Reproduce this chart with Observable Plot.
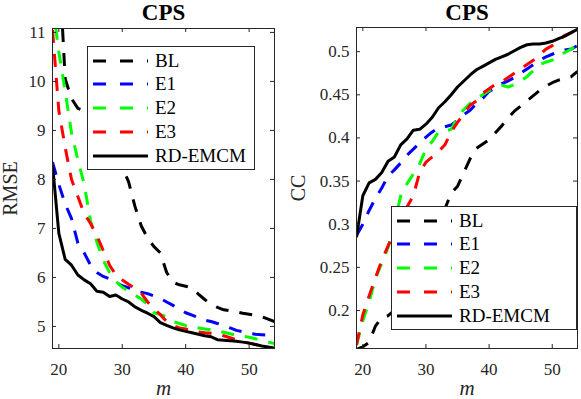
<!DOCTYPE html>
<html><head><meta charset="utf-8">
<script src="https://cdn.jsdelivr.net/npm/d3@7"></script>
<script src="https://cdn.jsdelivr.net/npm/@observablehq/plot@0.6"></script>
<style>
body{margin:0;background:#fff;}
#wrap{position:relative;width:581px;height:399px;display:flex;font-family:"Liberation Serif","Times New Roman",Times,"DejaVu Serif",serif;}
#wrap svg{display:block;flex:none;overflow:visible;}
#wrap svg text{font-family:"Liberation Serif","Times New Roman",Times,"DejaVu Serif",serif;}
.legend{position:absolute;background:#fff;border:1px solid #262626;box-sizing:border-box;font-family:"Liberation Serif","Times New Roman",Times,"DejaVu Serif",serif;font-size:19px;color:#000;}
.row{position:absolute;left:0;height:24px;display:flex;align-items:center;white-space:nowrap;}
.row svg{margin-left:5px;margin-right:7px;}
</style></head><body><div id="wrap"></div>
<script>
// x values (number of samples m)
const m = [19,20,21,22,23,24,25,26,27,28,29,30,31,32,33,34,35,36,37,38,39,40,41,42,43,44,45,46,47,48,49,50,51,52,53,54];
const xTicks = [20,30,40,50];
const rmseTicks = [5,6,7,8,9,10,11];
const ccTicks = [0.2,0.25,0.3,0.35,0.4,0.45,0.5];
const seriesNames = ["BL","E1","E2","E3","RD-EMCM"];
const seriesColors = ["#000000","#0000ff","#00ff00","#ff0000","#000000"];
const seriesDashed = [true,true,true,true,false];

// RMSE panel
const rmseBL = [14.0,12.5,10.05,9.65,9.45,9.40,9.3,9.15,9.0,8.8,8.55,8.25,7.95,7.45,7.05,6.8,6.63,6.5,6.1,5.9,5.85,5.82,5.78,5.66,5.55,5.45,5.39,5.34,5.32,5.30,5.27,5.25,5.23,5.20,5.15,5.10];
const rmseE1 = [8.35,7.9,7.5,7.2,6.7,6.5,6.25,6.1,6.02,5.97,5.9,5.83,5.79,5.74,5.7,5.67,5.62,5.57,5.5,5.43,5.35,5.28,5.23,5.18,5.13,5.1,5.06,5.02,4.97,4.92,4.89,4.86,4.84,4.83,4.82,4.82];
const rmseE2 = [11.6,10.6,9.8,8.95,8.4,7.9,7.15,6.72,6.35,6.1,5.92,5.8,5.72,5.64,5.56,5.45,5.28,5.24,5.2,5.1,5.06,5.02,4.99,4.97,4.95,4.93,4.91,4.88,4.85,4.82,4.8,4.78,4.75,4.71,4.68,4.65];
const rmseE3 = [11.05,9.4,8.65,8.0,7.65,7.3,7.1,6.85,6.55,6.25,6.05,5.95,5.86,5.78,5.68,5.5,5.36,5.24,5.1,5.02,4.97,4.95,4.92,4.89,4.87,4.86,4.85,4.81,4.77,4.73,4.69,4.66,4.63,4.6,4.57,4.54];
const rmseRD = [8.3,6.9,6.37,6.25,6.05,5.95,5.87,5.72,5.70,5.61,5.64,5.56,5.5,5.4,5.33,5.27,5.2,5.08,5.02,4.97,4.93,4.9,4.87,4.84,4.81,4.79,4.73,4.72,4.71,4.7,4.68,4.66,4.63,4.6,4.58,4.56];

// CC panel
const ccBL = [0.155,0.158,0.163,0.182,0.192,0.194,0.2,0.21,0.225,0.24,0.255,0.27,0.285,0.3,0.318,0.336,0.344,0.36,0.376,0.388,0.393,0.398,0.406,0.414,0.423,0.431,0.437,0.443,0.449,0.455,0.46,0.464,0.467,0.469,0.471,0.477];
const ccE1 = [0.287,0.300,0.316,0.330,0.342,0.356,0.363,0.371,0.380,0.387,0.394,0.401,0.407,0.412,0.413,0.415,0.420,0.427,0.432,0.440,0.446,0.454,0.458,0.463,0.466,0.470,0.475,0.480,0.485,0.490,0.494,0.497,0.500,0.502,0.503,0.507];
const ccE2 = [0.160,0.188,0.210,0.237,0.255,0.273,0.300,0.333,0.347,0.358,0.370,0.387,0.396,0.407,0.408,0.410,0.424,0.433,0.440,0.446,0.450,0.455,0.458,0.461,0.459,0.462,0.466,0.471,0.478,0.485,0.488,0.490,0.495,0.499,0.503,0.508];
const ccE3 = [0.160,0.195,0.217,0.238,0.258,0.275,0.290,0.305,0.320,0.333,0.360,0.372,0.378,0.384,0.392,0.407,0.418,0.428,0.438,0.443,0.452,0.457,0.462,0.465,0.470,0.475,0.480,0.485,0.490,0.496,0.503,0.507,0.513,0.519,0.522,0.526];
const ccRD = [0.285,0.333,0.348,0.352,0.360,0.373,0.378,0.392,0.399,0.409,0.410,0.416,0.424,0.435,0.442,0.450,0.459,0.466,0.473,0.479,0.483,0.487,0.491,0.494,0.497,0.501,0.505,0.508,0.509,0.509,0.510,0.512,0.515,0.518,0.522,0.526];

const AX = "#262626";
const FONT = "'Liberation Serif', 'Times New Roman', Times, 'DejaVu Serif', serif";
const H = 399;

function panel({w, ml, mr, mt, mb, ydom, yTicks, values, title, ylabel, ylabelX}) {
  const ph = H - mt - mb, pw = w - ml - mr, tl = 4;
  const lines = values.map((vals, k) => Plot.line(m.map((x, i) => ({m: x, v: vals[i]})), {
    x: "m", y: "v", stroke: seriesColors[k], strokeWidth: 3,
    strokeDasharray: seriesDashed[k] ? "13,11" : null,
    strokeLinecap: "butt", strokeLinejoin: "round", clip: true
  }));
  return Plot.plot({
    width: w, height: H, marginLeft: ml, marginRight: mr, marginTop: mt, marginBottom: mb,
    style: {fontFamily: FONT, fontSize: "17px", color: AX, background: "transparent", overflow: "visible"},
    x: {domain: [19, 54]},
    y: {domain: ydom},
    marks: [
      ...lines,
      Plot.frame({stroke: AX, strokeWidth: 1}),
      Plot.ruleX(xTicks, {x: d => d, insetTop: ph - tl, stroke: AX}),
      Plot.ruleX(xTicks, {x: d => d, insetBottom: ph - tl, stroke: AX}),
      Plot.ruleY(yTicks, {y: d => d, insetRight: pw - tl, stroke: AX}),
      Plot.ruleY(yTicks, {y: d => d, insetLeft: pw - tl, stroke: AX}),
      Plot.axisX({ticks: xTicks, tickSize: 0, tickPadding: 14, label: null, tickFormat: d => String(d), fontFamily: FONT}),
      Plot.axisY({ticks: yTicks, tickSize: 0, tickPadding: 7, label: null, tickFormat: d => String(d), fontFamily: FONT}),
      Plot.text([title], {text: d => d, frameAnchor: "top", lineAnchor: "middle", textAnchor: "middle", dy: 12.6 - mt, fontSize: 23, fontWeight: "bold", fill: "#000", fontFamily: FONT}),
      Plot.text([ylabel], {text: d => d, frameAnchor: "left", lineAnchor: "middle", textAnchor: "middle", rotate: -90, dx: ylabelX - ml, fontSize: 20, fill: AX, fontFamily: FONT}),
      Plot.text(["m"], {text: d => d, frameAnchor: "bottom", lineAnchor: "middle", textAnchor: "middle", dy: 40, fontSize: 21, fontStyle: "italic", fill: AX, fontFamily: FONT})
    ]
  });
}

const wrap = document.getElementById("wrap");
wrap.appendChild(panel({w: 290, ml: 52, mr: 16, mt: 28, mb: 51, ydom: [4.55, 11.08], yTicks: rmseTicks,
  values: [rmseBL, rmseE1, rmseE2, rmseE3, rmseRD], title: "CPS", ylabel: "RMSE", ylabelX: 10}));
wrap.appendChild(panel({w: 291, ml: 66, mr: 4, mt: 27, mb: 51, ydom: [0.156, 0.528], yTicks: ccTicks,
  values: [ccBL, ccE1, ccE2, ccE3, ccRD], title: "CPS", ylabel: "CC", ylabelX: 8.5}));

function legend(left, top, width, height) {
  const box = document.createElement("div");
  box.className = "legend";
  Object.assign(box.style, {left: left + "px", top: top + "px", width: width + "px", height: height + "px"});
  seriesNames.forEach((name, k) => {
    const row = document.createElement("div");
    row.className = "row";
    row.style.top = (14.7 + k * 23.7 - 12 - 1) + "px";
    const dash = seriesDashed[k] ? 'stroke-dasharray="13,14"' : "";
    row.innerHTML = `<svg width="55" height="6"><line x1="0" x2="55" y1="3" y2="3" stroke="${seriesColors[k]}" stroke-width="3" ${dash}/></svg><span>${name}</span>`;
    box.appendChild(row);
  });
  wrap.appendChild(box);
}
legend(87, 46, 168, 124);
legend(391, 206, 186, 124);
</script></body></html>
